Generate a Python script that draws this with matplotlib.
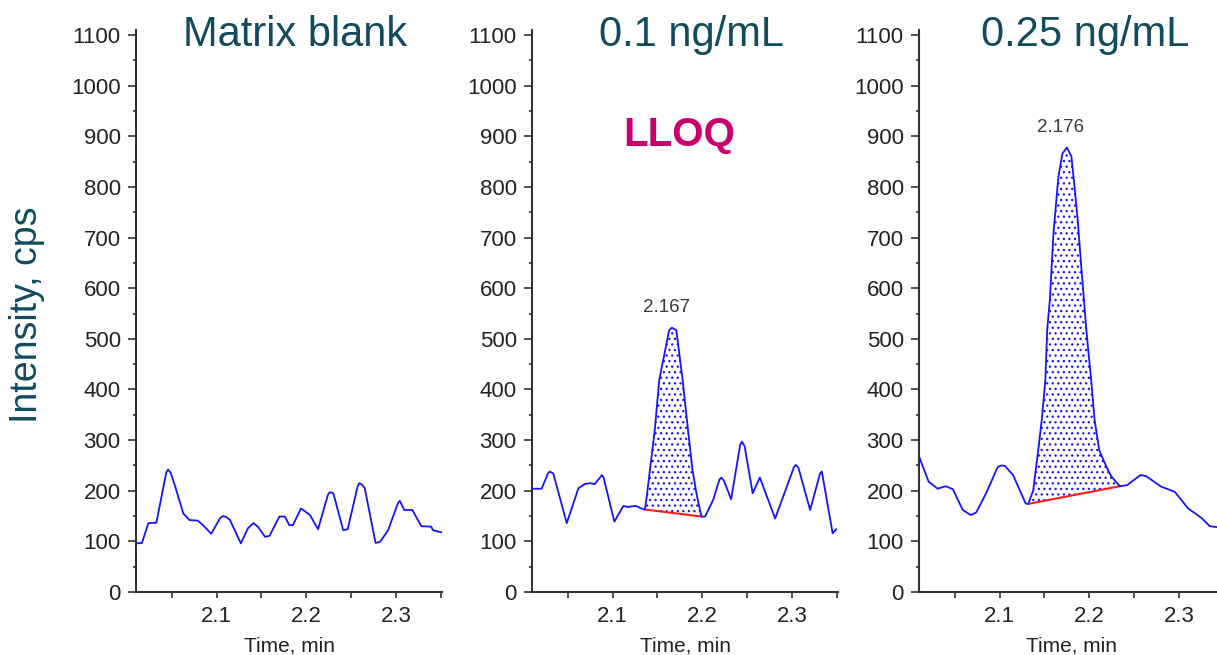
import numpy as np
import matplotlib
matplotlib.use('Agg')
import matplotlib.pyplot as plt
from matplotlib.ticker import MultipleLocator

plt.rcParams['font.family'] = ['Liberation Sans', 'DejaVu Sans']
plt.rcParams['hatch.linewidth'] = 0.9

TEAL = '#124b5e'
TRACE = '#1414ff'

titles = ['Matrix blank', '0.1 ng/mL', '0.25 ng/mL']

# --- chromatogram traces (time in min, intensity in cps)
blank_t = [2.011, 2.017, 2.024, 2.033, 2.040, 2.044, 2.046, 2.049, 2.054, 2.063,
           2.070, 2.079, 2.085, 2.094, 2.104, 2.107, 2.111, 2.115, 2.127, 2.135,
           2.141, 2.146, 2.154, 2.159, 2.170, 2.176, 2.181, 2.185, 2.194, 2.204,
           2.213, 2.224, 2.226, 2.230, 2.241, 2.246, 2.257, 2.259, 2.262, 2.265,
           2.277, 2.282, 2.291, 2.302, 2.304, 2.309, 2.318, 2.328, 2.339, 2.341,
           2.350]
blank_y = [96, 97, 136, 137, 200, 236, 242, 235, 208, 155,
           142, 141, 132, 115, 146, 150, 148, 142, 96, 126,
           136, 129, 109, 111, 149, 149, 132, 132, 165, 152,
           124, 192, 197, 195, 122, 124, 208, 215, 212, 205,
           97, 99, 122, 176, 180, 162, 162, 130, 129, 122,
           118]

lloq_t = [2.011, 2.021, 2.028, 2.030, 2.034, 2.049, 2.062, 2.069, 2.075, 2.080,
          2.086, 2.088, 2.090, 2.102, 2.112, 2.117, 2.126, 2.132, 2.136, 2.138,
          2.147, 2.152, 2.163, 2.166, 2.171, 2.178, 2.184, 2.189, 2.194, 2.199,
          2.203, 2.212, 2.219, 2.221, 2.224, 2.232, 2.242, 2.244, 2.247, 2.256,
          2.264, 2.281, 2.302, 2.304, 2.307, 2.320, 2.331, 2.333, 2.345, 2.349]
lloq_y = [204, 204, 234, 238, 234, 136, 205, 213, 215, 213,
          226, 231, 226, 139, 170, 168, 170, 165, 163, 188,
          320, 419, 517, 522, 517, 419, 320, 241, 189, 149,
          149, 182, 222, 226, 220, 183, 290, 297, 288, 195,
          226, 145, 247, 251, 245, 162, 234, 238, 116, 124]

low_t = [2.009, 2.021, 2.031, 2.040, 2.048, 2.059, 2.068, 2.074, 2.085, 2.098,
         2.102, 2.106, 2.115, 2.129, 2.132, 2.1375, 2.143, 2.147, 2.151, 2.153,
         2.156, 2.160, 2.1655, 2.170, 2.175, 2.180, 2.1835, 2.187, 2.191, 2.1965,
         2.198, 2.202, 2.2058, 2.211, 2.219, 2.2245, 2.234, 2.242, 2.257, 2.263,
         2.280, 2.295, 2.310, 2.325, 2.334, 2.343]
low_y = [274, 218, 204, 209, 203, 162, 152, 157, 195, 247,
         250, 249, 231, 175, 174, 201, 280, 340, 419, 517,
         577, 708, 820, 866, 878, 860, 800, 735, 642, 521,
         491, 419, 340, 280, 247, 228, 209, 211, 231, 229,
         208, 198, 165, 146, 130, 128]

traces = [(blank_t, blank_y), (lloq_t, lloq_y), (low_t, low_y)]

# integrated peaks: baseline start/end (time, intensity), apex label
peaks = [None,
         {'base_t': [2.136, 2.199], 'base_y': [163, 149], 'label': '2.167', 'lx': 2.160, 'ly': 561},
         {'base_t': [2.132, 2.234], 'base_y': [174, 209], 'label': '2.176', 'lx': 2.1675, 'ly': 918}]

fig = plt.figure(figsize=(12.17, 6.55), dpi=100)

lefts = [136 / 1217, 532 / 1217, 919 / 1217]
bottom = 63 / 655
width = 306 / 1217
height = 562 / 655
title_x = [295.5 / 1217, 691.5 / 1217, 1085 / 1217]

for i, (t, y) in enumerate(traces):
    ax = fig.add_axes([lefts[i], bottom, width, height])
    t = np.array(t)
    y = np.array(y)

    pk = peaks[i]
    if pk is not None:
        m = (t >= pk['base_t'][0]) & (t <= pk['base_t'][1])
        base = np.interp(t[m], pk['base_t'], pk['base_y'])
        ax.fill_between(t[m], base, y[m], facecolor='none', edgecolor=TRACE,
                        hatch='...', linewidth=0)
        ax.plot(pk['base_t'], pk['base_y'], color='#ff1a1a', lw=1.5, zorder=3)
        ax.text(pk['lx'], pk['ly'], pk['label'], ha='center', va='center',
                fontsize=13.5, color='#3a3a3a')

    ax.plot(t, y, color=TRACE, lw=1.3, zorder=4, solid_joinstyle='round')

    ax.set_xlim(2.0103, 2.351)
    ax.set_ylim(0, 1110)
    ax.yaxis.set_major_locator(MultipleLocator(100))
    ax.yaxis.set_minor_locator(MultipleLocator(50))
    ax.xaxis.set_major_locator(MultipleLocator(0.1))
    ax.xaxis.set_minor_locator(MultipleLocator(0.05))
    ax.xaxis.set_major_formatter(plt.FuncFormatter(lambda v, p: f'{v:.1f}'))

    for s in ['top', 'right']:
        ax.spines[s].set_visible(False)
    for s in ['left', 'bottom']:
        ax.spines[s].set_color('#333333')
        ax.spines[s].set_linewidth(1.5)

    ax.tick_params(axis='y', which='major', length=6, width=1.2, pad=5,
                   labelsize=16, colors='#333333', labelcolor='#222222')
    ax.tick_params(axis='y', which='minor', length=2.5, width=1.2, colors='#333333')
    ax.tick_params(axis='x', which='both', length=4, width=1.2, pad=6,
                   labelsize=16, colors='#333333', labelcolor='#222222')
    ax.set_xlabel('Time, min', fontsize=15, color='#222222', labelpad=7)

    fig.text(title_x[i], 1 - 46 / 655, titles[i], ha='center', va='baseline',
             fontsize=30, color=TEAL)

    if i == 1:
        ax.text(2.1737, 902, 'LLOQ', ha='center', va='center', fontsize=29,
                fontweight='bold', color='#c8006e')

fig.text(27 / 1217, 1 - 315 / 655, 'Intensity, cps', rotation=90,
         ha='center', va='center', fontsize=27, color=TEAL)

fig.savefig('out.png', dpi=100)
